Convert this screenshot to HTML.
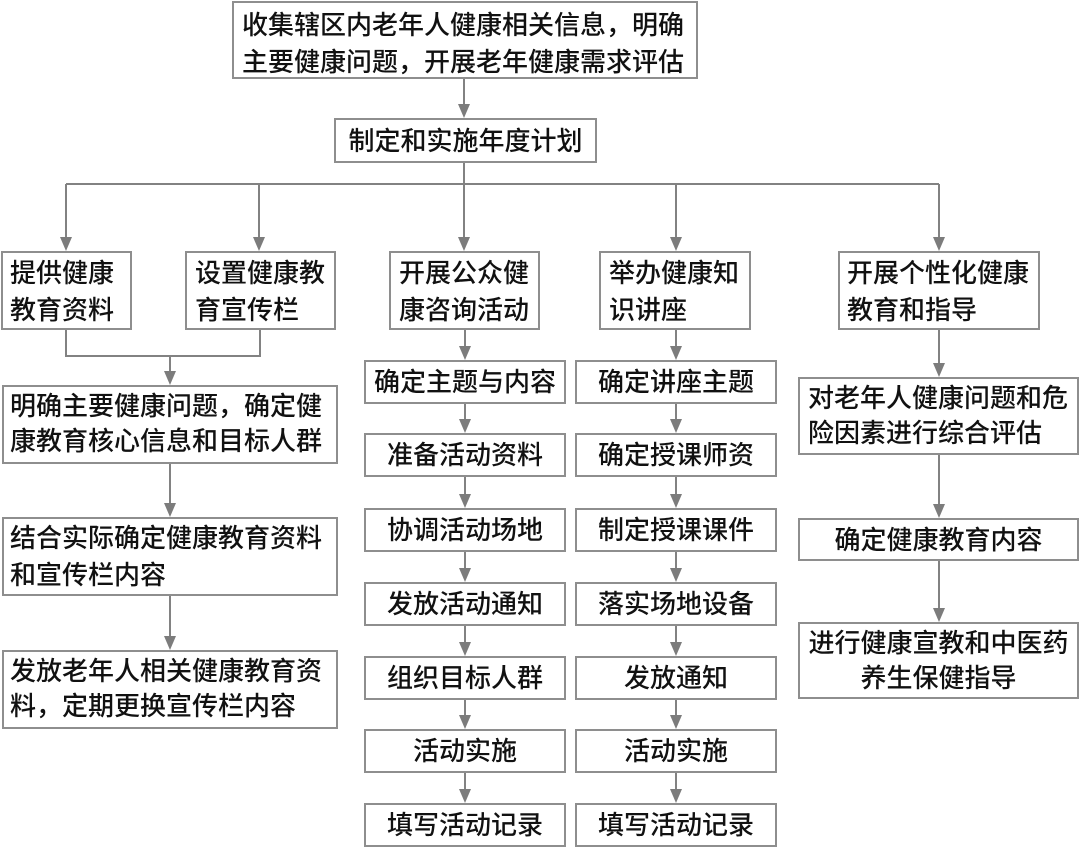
<!DOCTYPE html>
<html>
<head>
<meta charset="utf-8">
<style>
  html,body{margin:0;padding:0;background:#fff;}
  #c{position:relative;width:1080px;height:847px;overflow:hidden;background:#fff;
     font-family:"Liberation Sans","Noto Sans CJK SC",sans-serif;color:#111;font-weight:500;}
  .b{position:absolute;box-sizing:border-box;border:2px solid #8e8e8e;background:#fff;
     font-size:26px;white-space:nowrap;}
  .l{text-align:left;line-height:37px;}
  .m{display:flex;align-items:center;justify-content:center;line-height:30px;}
  .cc{text-align:center;line-height:35px;}
  svg{position:absolute;left:0;top:0;}
</style>
</head>
<body>
<div id="c">
<svg width="1080" height="847" viewBox="0 0 1080 847">
  <g stroke="#828282" stroke-width="2" fill="none">
    <line x1="464" y1="79" x2="464" y2="105"/>
    <line x1="464" y1="163" x2="464" y2="184"/>
    <line x1="66" y1="184" x2="939" y2="184"/>
    <line x1="66" y1="184" x2="66" y2="238"/>
    <line x1="259" y1="184" x2="259" y2="238"/>
    <line x1="464" y1="184" x2="464" y2="238"/>
    <line x1="676" y1="184" x2="676" y2="238"/>
    <line x1="939" y1="184" x2="939" y2="238"/>
    <polyline points="66,329 66,356 260,356 260,329"/>
    <line x1="170" y1="356" x2="170" y2="372"/>
    <line x1="170" y1="463" x2="170" y2="504"/>
    <line x1="170" y1="595" x2="170" y2="637"/>
    <line x1="465" y1="329" x2="465" y2="347"/>
    <line x1="465" y1="403" x2="465" y2="420"/>
    <line x1="465" y1="476" x2="465" y2="495"/>
    <line x1="465" y1="551" x2="465" y2="569"/>
    <line x1="465" y1="625" x2="465" y2="643"/>
    <line x1="465" y1="699" x2="465" y2="716"/>
    <line x1="465" y1="772" x2="465" y2="790"/>
    <line x1="676" y1="329" x2="676" y2="347"/>
    <line x1="676" y1="403" x2="676" y2="420"/>
    <line x1="676" y1="476" x2="676" y2="495"/>
    <line x1="676" y1="551" x2="676" y2="569"/>
    <line x1="676" y1="625" x2="676" y2="643"/>
    <line x1="676" y1="699" x2="676" y2="716"/>
    <line x1="676" y1="772" x2="676" y2="790"/>
    <line x1="939" y1="329" x2="939" y2="364"/>
    <line x1="939" y1="454" x2="939" y2="505"/>
    <line x1="939" y1="560" x2="939" y2="609"/>
  </g>
  <g fill="#7c7c7c">
    <polygon points="458,104 470,104 464,118"/>
    <polygon points="60,237 72,237 66,251"/>
    <polygon points="253,237 265,237 259,251"/>
    <polygon points="458,237 470,237 464,251"/>
    <polygon points="670,237 682,237 676,251"/>
    <polygon points="933,237 945,237 939,251"/>
    <polygon points="164,371 176,371 170,385"/>
    <polygon points="164,503 176,503 170,517"/>
    <polygon points="164,636 176,636 170,650"/>
    <polygon points="459,346 471,346 465,360"/>
    <polygon points="459,419 471,419 465,433"/>
    <polygon points="459,494 471,494 465,508"/>
    <polygon points="459,568 471,568 465,582"/>
    <polygon points="459,642 471,642 465,656"/>
    <polygon points="459,715 471,715 465,729"/>
    <polygon points="459,789 471,789 465,803"/>
    <polygon points="670,346 682,346 676,360"/>
    <polygon points="670,419 682,419 676,433"/>
    <polygon points="670,494 682,494 676,508"/>
    <polygon points="670,568 682,568 676,582"/>
    <polygon points="670,642 682,642 676,656"/>
    <polygon points="670,715 682,715 676,729"/>
    <polygon points="670,789 682,789 676,803"/>
    <polygon points="933,363 945,363 939,377"/>
    <polygon points="933,504 945,504 939,518"/>
    <polygon points="933,608 945,608 939,622"/>
  </g>
</svg>

<div class="b l" style="left:232px;top:1px;width:466px;height:78px;padding:4px 0 0 8px;">收集辖区内老年人健康相关信息，明确<br>主要健康问题，开展老年健康需求评估</div>
<div class="b m" style="left:334px;top:118px;width:263px;height:45px;">制定和实施年度计划</div>

<div class="b l" style="left:1px;top:251px;width:131px;height:79px;padding:2px 0 0 7px;">提供健康<br>教育资料</div>
<div class="b l" style="left:185px;top:251px;width:151px;height:79px;padding:2px 0 0 8px;">设置健康教<br>育宣传栏</div>
<div class="b l" style="left:389px;top:251px;width:151px;height:79px;padding:2px 0 0 8px;">开展公众健<br>康咨询活动</div>
<div class="b l" style="left:599px;top:251px;width:152px;height:79px;padding:2px 0 0 8px;">举办健康知<br>识讲座</div>
<div class="b l" style="left:838px;top:251px;width:202px;height:79px;padding:2px 0 0 7px;">开展个性化健康<br>教育和指导</div>

<div class="b l" style="left:2px;top:385px;width:336px;height:79px;padding:2px 0 0 6px;line-height:35px;">明确主要健康问题，确定健<br>康教育核心信息和目标人群</div>
<div class="b l" style="left:2px;top:517px;width:336px;height:79px;padding:1px 0 0 6px;">结合实际确定健康教育资料<br>和宣传栏内容</div>
<div class="b l" style="left:2px;top:650px;width:336px;height:79px;padding:2px 0 0 6px;line-height:35px;">发放老年人相关健康教育资<br>料，定期更换宣传栏内容</div>

<div class="b m" style="left:364px;top:360px;width:202px;height:44px;">确定主题与内容</div>
<div class="b m" style="left:364px;top:433px;width:202px;height:44px;">准备活动资料</div>
<div class="b m" style="left:364px;top:508px;width:202px;height:44px;">协调活动场地</div>
<div class="b m" style="left:364px;top:582px;width:202px;height:44px;">发放活动通知</div>
<div class="b m" style="left:364px;top:656px;width:202px;height:44px;">组织目标人群</div>
<div class="b m" style="left:364px;top:729px;width:202px;height:44px;">活动实施</div>
<div class="b m" style="left:364px;top:803px;width:202px;height:44px;">填写活动记录</div>

<div class="b m" style="left:575px;top:360px;width:202px;height:44px;">确定讲座主题</div>
<div class="b m" style="left:575px;top:433px;width:202px;height:44px;">确定授课师资</div>
<div class="b m" style="left:575px;top:508px;width:202px;height:44px;">制定授课课件</div>
<div class="b m" style="left:575px;top:582px;width:202px;height:44px;">落实场地设备</div>
<div class="b m" style="left:575px;top:656px;width:202px;height:44px;">发放通知</div>
<div class="b m" style="left:575px;top:729px;width:202px;height:44px;">活动实施</div>
<div class="b m" style="left:575px;top:803px;width:202px;height:44px;">填写活动记录</div>

<div class="b l" style="left:798px;top:377px;width:281px;height:78px;padding:2px 0 0 8px;line-height:35px;">对老年人健康问题和危<br>险因素进行综合评估</div>
<div class="b m" style="left:798px;top:518px;width:281px;height:43px;">确定健康教育内容</div>
<div class="b cc" style="left:798px;top:622px;width:281px;height:77px;padding-top:2px;">进行健康宣教和中医药<br>养生保健指导</div>
</div>
</body>
</html>
